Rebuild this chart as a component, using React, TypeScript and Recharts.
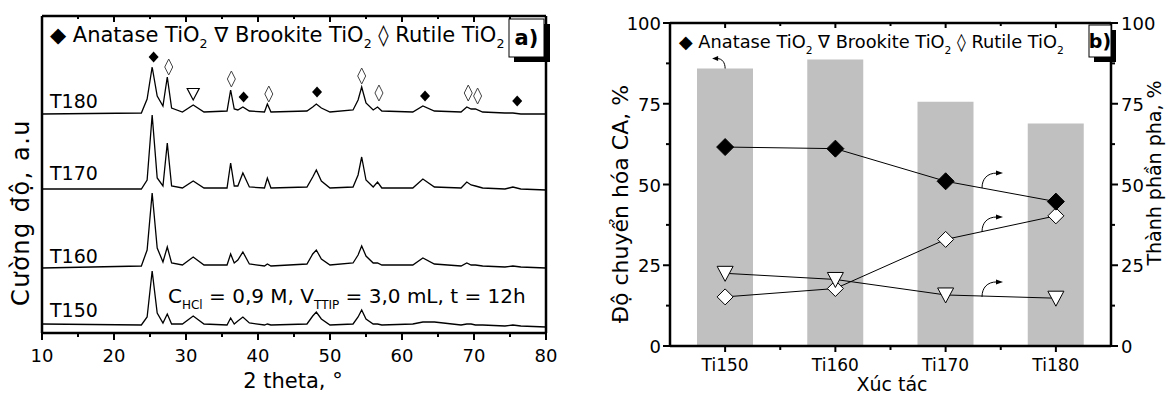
import React from 'react';
import { ComposedChart, Line, Bar, XAxis, YAxis, Scatter, ReferenceDot } from 'recharts';

const FONT = '"DejaVu Sans", sans-serif';

// ---------- Panel a: XRD patterns ----------
const twoTheta = [10, 23.8, 24.6, 25.3, 26.0, 26.8, 27.4, 28.0, 29.5, 31.0, 32.5, 35.7, 36.2, 36.7, 37.2, 37.9, 38.8, 40.9, 41.3, 41.8, 46.8, 47.6, 48.1, 48.8, 50.0, 53.2, 53.9, 54.4, 55.0, 56.0, 56.6, 57.2, 61.5, 62.9, 64.5, 68.2, 69.0, 69.6, 70.2, 71.2, 74.3, 75.4, 76.5, 80];
const sampleNames = ['T180', 'T170', 'T160', 'T150'];
const stackOffsets = [219, 143, 65, 6];
const intT180 = [0, 1, 15, 47, 18, 8, 37, 6, 2, 9, 2, 3, 24, 5, 4, 7, 3, 2, 10, 2, 3, 7, 10, 6, 2, 4, 14, 27, 11, 4, 7, 3, 2, 8, 3, 2, 7, 5, 5, 2, 1, 1, 0, 0];
const intT170 = [1, 1, 10, 75, 12, 4, 47, 4, 2, 9, 2, 2, 27, 4, 4, 17, 3, 2, 12, 2, 3, 13, 20, 9, 2, 3, 15, 33, 10, 3, 8, 2, 2, 11, 3, 2, 8, 5, 4, 2, 1, 3, 1, 0];
const intT160 = [0, 2, 18, 75, 20, 6, 21, 5, 3, 11, 3, 3, 14, 5, 8, 16, 4, 2, 4, 2, 4, 14, 18, 9, 3, 5, 13, 22, 12, 5, 5, 3, 3, 10, 4, 2, 5, 3, 3, 2, 1, 2, 1, 0];
const intT150 = [3, 2, 10, 56, 14, 4, 13, 3, 3, 11, 3, 2, 9, 3, 6, 10, 4, 2, 3, 2, 3, 11, 15, 8, 2, 3, 10, 17, 8, 3, 3, 2, 3, 5, 5, 2, 3, 3, 2, 2, 1, 2, 1, 0];
const intensities = [intT180, intT170, intT160, intT150];
const xTicksA = [10, 15, 20, 25, 30, 35, 40, 45, 50, 55, 60, 65, 70, 75, 80];
const xDomainA = [10, 80];
const yRangeA = [0, 317];

const peakTheta = [25.5, 27.6, 31.0, 36.3, 38.0, 41.5, 48.2, 54.4, 56.8, 63.2, 69.2, 70.5, 76.0];
const peakLevel = [276, 266, 239, 254, 236, 239, 241, 257, 240, 237, 240, 237, 232];
const peakPhase = ['A', 'R', 'B', 'R', 'A', 'R', 'A', 'R', 'R', 'A', 'R', 'R', 'A'];

const xrdRows = twoTheta.map((x, i) => {
  const row: any = { x };
  sampleNames.forEach((n, k) => { row[n] = intensities[k][i] + stackOffsets[k]; });
  return row;
});
const peakRows = peakTheta.map((x, i) => ({ x, y: peakLevel[i], phase: peakPhase[i] }));

// ---------- Panel b ----------
const catalysts = ['Ti150', 'Ti160', 'Ti170', 'Ti180'];
const conversion = [85.9, 88.7, 75.6, 68.9];
const anatase = [61.6, 61.1, 51.0, 44.7];
const brookite = [22.5, 20.6, 15.8, 14.8];
const rutile = [15.2, 17.8, 33.0, 40.3];
const yTicksB = [0, 12.5, 25, 37.5, 50, 62.5, 75, 87.5, 100];
const xTicksB = [1, 1.5, 2, 2.5, 3, 3.5, 4];
const xDomainB = [0.5, 4.5];
const yDomainB = [0, 100];
const arrowRightAt = [[3.33, 48.9], [3.33, 35.3], [3.33, 15.2]];
const arrowLeftAt = [[1.0, 85.9]];

const bRows = catalysts.map((cat, i) => ({
  x: i + 1, cat, conv: conversion[i], anatase: anatase[i], brookite: brookite[i], rutile: rutile[i],
}));

// ---------- layout ----------
const plotA = { left: 42, top: 16, width: 504, height: 317 };
const plotB = { left: 670, top: 23, width: 441, height: 323 };
const chartBLeft = 590;
const AXIS = { stroke: '#000', strokeWidth: 2.5 };

// ---------- tick renderers: tick mark + label, drawn by Recharts at the axis' own coordinates ----------
const VMark = ({ x, y, len }: any) => (
  <path d={`M${x},${y} L${x},${y + len}`} stroke="#000" strokeWidth={2} fill="none" />
);
const HMark = ({ x, y, len }: any) => (
  <path d={`M${x},${y} L${x + len},${y}`} stroke="#000" strokeWidth={2} fill="none" />
);

const BottomTickA = (p: any) => {
  const v = p.payload.value;
  const major = v % 10 === 0;
  return (
    <g>
      <VMark x={p.x} y={p.y} len={major ? 7 : 4} />
      {major && <text x={p.x} y={p.y + 29} textAnchor="middle" fontSize={18} fontFamily={FONT} fill="#000">{v}</text>}
    </g>
  );
};
const TopTickA = (p: any) => <VMark x={p.x} y={p.y} len={p.payload.value % 10 === 0 ? 6 : 3} />;
const LeftTickB = (p: any) => {
  const v = p.payload.value;
  const major = v % 25 === 0;
  return (
    <g>
      <HMark x={p.x} y={p.y} len={major ? -7 : -4} />
      {major && <text x={p.x - 9} y={p.y + 7} textAnchor="end" fontSize={18} fontFamily={FONT} fill="#000">{v}</text>}
    </g>
  );
};
const RightTickB = (p: any) => {
  const v = p.payload.value;
  const major = v % 25 === 0;
  return (
    <g>
      <HMark x={p.x} y={p.y} len={major ? 7 : 4} />
      {major && <text x={p.x + 10} y={p.y + 7} textAnchor="start" fontSize={18} fontFamily={FONT} fill="#000">{v}</text>}
    </g>
  );
};
const BottomTickB = (p: any) => {
  const v = p.payload.value;
  const major = Number.isInteger(v);
  return (
    <g>
      <VMark x={p.x} y={p.y} len={major ? 6 : 4} />
      {major && <text x={p.x} y={p.y + 25} textAnchor="middle" fontSize={17} fontFamily={FONT} fill="#000">{catalysts[v - 1]}</text>}
    </g>
  );
};
const TopTickB = (p: any) => <VMark x={p.x} y={p.y} len={Number.isInteger(p.payload.value) ? 5 : 3} />;

// ---------- marker shapes ----------
const PeakMark = (p: any) => {
  const { cx, cy } = p;
  const ph = p.payload.phase;
  if (ph === 'A') return <polygon points={`${cx},${cy - 5.5} ${cx + 5},${cy} ${cx},${cy + 5.5} ${cx - 5},${cy}`} fill="#000" />;
  if (ph === 'R') return <polygon points={`${cx},${cy - 8} ${cx + 4},${cy} ${cx},${cy + 8} ${cx - 4},${cy}`} fill="#fff" stroke="#444" strokeWidth={1} />;
  return <polygon points={`${cx - 6},${cy - 5.5} ${cx + 6},${cy - 5.5} ${cx},${cy + 6}`} fill="#fff" stroke="#000" strokeWidth={1.2} />;
};
const FilledDiamond = (p: any) => (
  <polygon key={p.index} points={`${p.cx},${p.cy - 8.5} ${p.cx + 8.5},${p.cy} ${p.cx},${p.cy + 8.5} ${p.cx - 8.5},${p.cy}`} fill="#000" stroke="#000" />
);
const OpenDiamond = (p: any) => (
  <polygon key={p.index} points={`${p.cx},${p.cy - 8} ${p.cx + 8},${p.cy} ${p.cx},${p.cy + 8} ${p.cx - 8},${p.cy}`} fill="#fff" stroke="#000" strokeWidth={1} />
);
const OpenTriangle = (p: any) => (
  <polygon key={p.index} points={`${p.cx - 8},${p.cy - 7} ${p.cx + 8},${p.cy - 7} ${p.cx},${p.cy + 8}`} fill="#fff" stroke="#000" strokeWidth={1} />
);
const ArrowRight = (p: any) => {
  const { cx, cy } = p;
  return (
    <g>
      <path d={`M${cx},${cy} C${cx},${cy - 9} ${cx + 5},${cy - 15} ${cx + 15},${cy - 15}`} fill="none" stroke="#000" strokeWidth={1} />
      <polygon points={`${cx + 14},${cy - 17.5} ${cx + 21},${cy - 15} ${cx + 14},${cy - 12.5}`} fill="#000" />
    </g>
  );
};
const ArrowLeft = (p: any) => {
  const { cx, cy } = p;
  return (
    <g>
      <path d={`M${cx},${cy} C${cx},${cy - 6} ${cx - 3},${cy - 10} ${cx - 8},${cy - 10}`} fill="none" stroke="#000" strokeWidth={1} />
      <polygon points={`${cx - 7},${cy - 12.5} ${cx - 13},${cy - 10} ${cx - 7},${cy - 7.5}`} fill="#000" />
    </g>
  );
};

const LegendText = ({ x, y, size }: any) => (
  <text x={x} y={y} fontSize={size} fontFamily={FONT} fill="#000">
    <tspan>◆ Anatase TiO</tspan>
    <tspan dy={6} fontSize={size * 0.6}>2</tspan>
    <tspan dy={-6}> ∇ Brookite TiO</tspan>
    <tspan dy={6} fontSize={size * 0.6}>2</tspan>
    <tspan dy={-6}> ◊ Rutile TiO</tspan>
    <tspan dy={6} fontSize={size * 0.6}>2</tspan>
  </text>
);

export default function App() {
  return (
    <div style={{ position: 'absolute', left: 0, top: 0, width: 1169, height: 394, background: '#fff', overflow: 'hidden' }}>
      <div style={{ position: 'absolute', left: 0, top: 0 }}>
        <ComposedChart width={590} height={394} data={xrdRows}
          margin={{ top: plotA.top - 10, right: 590 - plotA.left - plotA.width - 10, bottom: 0, left: plotA.left - 10 }}>
          <XAxis xAxisId="b" dataKey="x" type="number" domain={xDomainA} ticks={xTicksA} interval={0} height={394 - plotA.top - plotA.height}
            axisLine={AXIS} tickLine={false} tickSize={0} tickMargin={0} tick={(p: any) => <BottomTickA {...p} />} allowDataOverflow />
          <XAxis xAxisId="t" orientation="top" dataKey="x" type="number" domain={xDomainA} ticks={xTicksA} interval={0} height={10}
            axisLine={AXIS} tickLine={false} tickSize={0} tickMargin={0} tick={(p: any) => <TopTickA {...p} />} allowDataOverflow />
          <YAxis yAxisId="l" type="number" domain={yRangeA} width={10} axisLine={AXIS} tick={false} tickLine={false} allowDataOverflow />
          <YAxis yAxisId="r" orientation="right" type="number" domain={yRangeA} width={10} axisLine={AXIS} tick={false} tickLine={false} allowDataOverflow />
          {sampleNames.map((n) => (
            <Line key={n} xAxisId="b" yAxisId="l" type="linear" dataKey={n} stroke="#000" strokeWidth={1.3} dot={false} isAnimationActive={false} />
          ))}
          <Scatter xAxisId="b" yAxisId="l" data={peakRows} dataKey="y" shape={(p: any) => <PeakMark {...p} />} isAnimationActive={false} />
        </ComposedChart>
      </div>
      <div style={{ position: 'absolute', left: chartBLeft, top: 0 }}>
        <ComposedChart width={579} height={394} data={bRows}
          margin={{ top: plotB.top - 10, right: 1169 - plotB.left - plotB.width - 50, bottom: 0, left: plotB.left - chartBLeft - 50 }}>
          <XAxis xAxisId="b" dataKey="x" type="number" domain={xDomainB} ticks={xTicksB} interval={0} height={394 - plotB.top - plotB.height}
            axisLine={AXIS} tickLine={false} tickSize={0} tickMargin={0} tick={(p: any) => <BottomTickB {...p} />} allowDataOverflow />
          <XAxis xAxisId="t" orientation="top" dataKey="x" type="number" domain={xDomainB} ticks={xTicksB} interval={0} height={10}
            axisLine={AXIS} tickLine={false} tickSize={0} tickMargin={0} tick={(p: any) => <TopTickB {...p} />} allowDataOverflow />
          <XAxis xAxisId="cat" dataKey="cat" type="category" hide />
          <YAxis yAxisId="l" type="number" domain={yDomainB} ticks={yTicksB} interval={0} width={50} axisLine={AXIS}
            tickLine={false} tickSize={0} tickMargin={0} tick={(p: any) => <LeftTickB {...p} />} />
          <YAxis yAxisId="r" orientation="right" type="number" domain={yDomainB} ticks={yTicksB} interval={0} width={50} axisLine={AXIS}
            tickLine={false} tickSize={0} tickMargin={0} tick={(p: any) => <RightTickB {...p} />} />
          <Bar xAxisId="cat" yAxisId="l" dataKey="conv" fill="#c0c0c0" barSize={56} isAnimationActive={false} />
          <Line xAxisId="b" yAxisId="r" type="linear" dataKey="rutile" stroke="#000" strokeWidth={1} dot={(p: any) => <OpenDiamond {...p} />} isAnimationActive={false} />
          <Line xAxisId="b" yAxisId="r" type="linear" dataKey="brookite" stroke="#000" strokeWidth={1} dot={(p: any) => <OpenTriangle {...p} />} isAnimationActive={false} />
          <Line xAxisId="b" yAxisId="r" type="linear" dataKey="anatase" stroke="#000" strokeWidth={1} dot={(p: any) => <FilledDiamond {...p} />} isAnimationActive={false} />
          {arrowRightAt.map(([ax, ay], i) => (
            <ReferenceDot key={'ar' + i} xAxisId="b" yAxisId="r" x={ax} y={ay} r={0} ifOverflow="visible" shape={(p: any) => <ArrowRight {...p} />} />
          ))}
          {arrowLeftAt.map(([ax, ay], i) => (
            <ReferenceDot key={'al' + i} xAxisId="b" yAxisId="l" x={ax} y={ay} r={0} ifOverflow="visible" shape={(p: any) => <ArrowLeft {...p} />} />
          ))}
        </ComposedChart>
      </div>
      <svg width={1169} height={394} style={{ position: 'absolute', left: 0, top: 0, pointerEvents: 'none' }}>
        <LegendText x={50} y={42} size={21} />
        <rect x={514} y={24} width={36} height={38} fill="#000" />
        <rect x={509} y={19} width={35} height={38} fill="#fff" stroke="#000" strokeWidth={1} />
        <text x={526.5} y={45} textAnchor="middle" fontSize={21} fontWeight="bold" fontFamily={FONT} fill="#000">a)</text>
        {sampleNames.map((n, i) => (
          <text key={n} x={50} y={[108, 180, 263, 317][i]} fontSize={19} fontFamily={FONT} fill="#000">{n}</text>
        ))}
        <text x={168} y={303} fontSize={20} fontFamily={FONT} fill="#000">
          <tspan>C</tspan>
          <tspan dy={6} fontSize={12}>HCl</tspan>
          <tspan dy={-6}> = 0,9 M, V</tspan>
          <tspan dy={6} fontSize={12}>TTIP</tspan>
          <tspan dy={-6}> = 3,0 mL, t = 12h</tspan>
        </text>
        <text x={293} y={388} textAnchor="middle" fontSize={21} fontFamily={FONT} fill="#000">2 theta, °</text>
        <text transform="translate(29,212.5) rotate(-90)" textAnchor="middle" fontSize={24} letterSpacing={1.5} fontFamily={FONT} fill="#000">Cường độ, a.u</text>
        <LegendText x={679} y={48} size={17.8} />
        <rect x={1094} y={30} width={22} height={32} fill="#000" />
        <rect x={1089} y={25} width={22} height={32} fill="#fff" stroke="#000" strokeWidth={1} />
        <text x={1100} y={48} textAnchor="middle" fontSize={19} fontWeight="bold" fontFamily={FONT} fill="#000">b)</text>
        <text transform="translate(628,204) rotate(-90)" textAnchor="middle" fontSize={22} fontFamily={FONT} fill="#000">Độ chuyển hóa CA, %</text>
        <text transform="translate(1161,173) rotate(-90)" textAnchor="middle" fontSize={19} fontFamily={FONT} fill="#000">Thành phần pha, %</text>
        <text x={892} y={391} textAnchor="middle" fontSize={19} fontFamily={FONT} fill="#000">Xúc tác</text>
      </svg>
    </div>
  );
}
